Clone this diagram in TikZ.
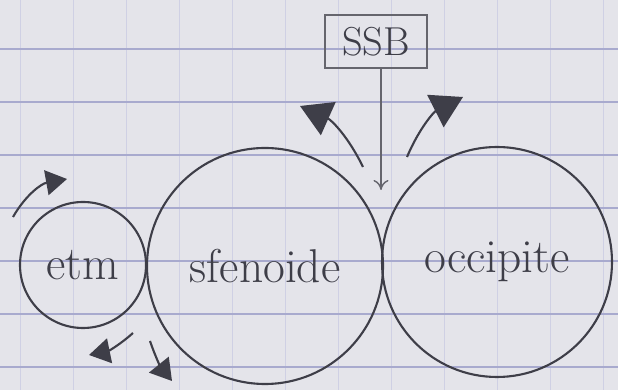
\documentclass[tikz,border=0pt]{standalone}
\usetikzlibrary{arrows.meta}
\definecolor{paper}{RGB}{228,228,234}
\definecolor{gridline}{RGB}{168,170,206}
\definecolor{pencil}{RGB}{62,62,72}
\begin{document}
\begin{tikzpicture}[
  bone/.style={circle,draw=pencil,line width=1.2pt,text=pencil,font=\fontsize{27}{30}\selectfont,inner sep=0pt},
  label box/.style={draw=pencil!80,line width=1pt,text=pencil,font=\fontsize{23}{26}\selectfont,minimum width=2.04cm,minimum height=1.06cm},
  turn/.style={draw=pencil,line width=1.2pt,-{Triangle[length=0.42cm,width=0.5cm,fill=pencil]}},
  big turn/.style={draw=pencil,line width=1.2pt,-{Triangle[length=0.62cm,width=0.72cm,fill=pencil]}}
]
\useasboundingbox[fill=paper] (0,0) rectangle (12.36,7.8);
\foreach \x in {0,...,11}
  \draw[gridline!55,line width=0.4pt] (0.4+1.06*\x,0) -- (0.4+1.06*\x,7.8);
\foreach \y in {0,...,6}
  \draw[gridline,line width=0.7pt] (0,0.46+1.06*\y) -- (12.36,0.46+1.06*\y);

\node[bone,minimum size=2.52cm] (etm) at (1.66,2.5) {etm};
\node[bone,minimum size=4.72cm] (sfen) at (5.3,2.48) {sfenoide};
\node[bone,minimum size=4.6cm] (occ) at (9.94,2.56) {occipite};

\node[label box] (ssb) at (7.52,6.97) {SSB};
\coordinate (gap) at (7.62,4.0);
\draw[pencil!80,line width=0.8pt,-{To[length=0.2cm,width=0.3cm]}] (ssb.south -| gap) -- (gap);

\coordinate (t1) at (0.26,3.46);
\coordinate (h1) at (1.34,4.22);
\coordinate (t2) at (2.66,1.14);
\coordinate (h2) at (1.78,0.7);
\coordinate (t3) at (3.0,0.98);
\coordinate (h3) at (3.44,0.18);
\coordinate (t4) at (7.26,4.46);
\coordinate (h4) at (6.0,5.68);
\coordinate (t5) at (8.14,4.66);
\coordinate (h5) at (9.26,5.86);

\draw[turn] (t1) to[bend left=25] (h1);
\draw[turn] (t2) to[bend left=15] (h2);
\draw[turn] (t3) to[bend right=10] (h3);
\draw[big turn] (t4) to[bend right=20] (h4);
\draw[big turn] (t5) to[bend left=20] (h5);
\end{tikzpicture}
\end{document}
